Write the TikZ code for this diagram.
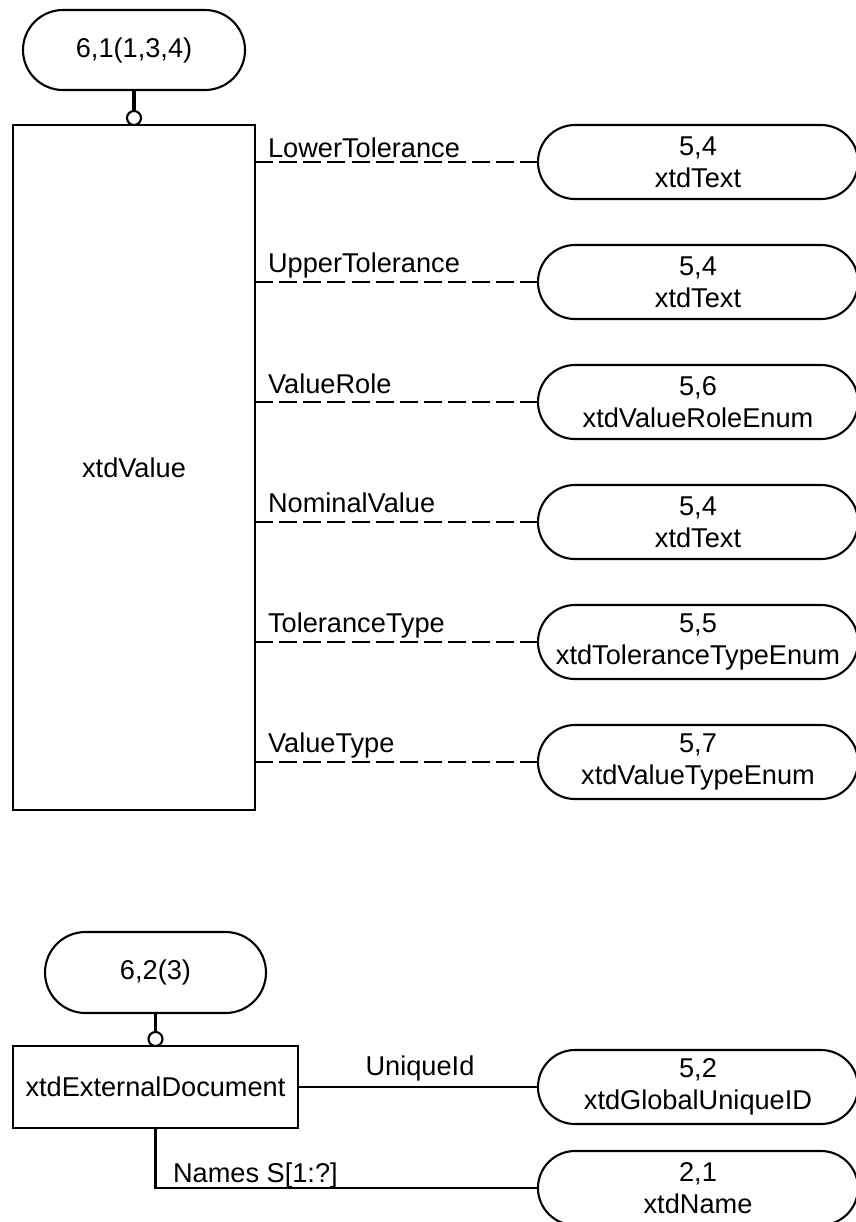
\documentclass[tikz,border=0pt]{standalone}
\usepackage{fontspec}
\setmainfont{Liberation Sans}

\begin{document}
\begin{tikzpicture}[x=0.015cm, y=-0.015cm,
		font=\fontsize{11.6}{13.66}\selectfont,
		line width=0.9pt,
		refbox/.style={draw, rounded corners=0.6cm, minimum width=3.33cm, minimum height=1.2cm},
		entbox/.style={draw},
		typebox/.style={draw, align=center, rounded corners=0.555cm, minimum width=4.8cm, minimum height=1.11cm},
		hook/.style={draw, circle, fill=white, inner sep=0pt, minimum size=0.21cm},
		stub/.style={line width=1.7pt},
		attr/.style={dash pattern=on 7.7pt off 2.6pt}]
			\useasboundingbox (0,0) rectangle (856,1222);

			% Draw the xtdValue entity
			\node[refbox] (ref1) at (134,50) {6,1(1,3,4)};
			\node[entbox, minimum width=3.63cm, minimum height=10.275cm] (val) at (134,467.5) {xtdValue};
			\node[hook] (c1) at (134,118) {};
			\draw[stub] (ref1) -- (c1);

			% Draw its attributes
			\foreach \y/\ly/\attr/\num/\typ [count=\i] in {
					162/157/LowerTolerance/{5,4}/xtdText,
					282/272/UpperTolerance/{5,4}/xtdText,
					402/393/ValueRole/{5,6}/xtdValueRoleEnum,
					522/512/NominalValue/{5,4}/xtdText,
					642/632/ToleranceType/{5,5}/xtdToleranceTypeEnum,
					762/752/ValueType/{5,7}/xtdValueTypeEnum} {
				\coordinate (a\i) at (255,\y);
				\node[typebox] (t\i) at (698,\y) {\num\\\typ};
				\draw[attr] (a\i) -- (t\i);
				\node[anchor=base west, inner sep=0pt] (l\i) at (267,\ly) {\attr};
			}

			% Draw the xtdExternalDocument entity
			\node[refbox, minimum width=3.315cm, minimum height=1.215cm, rounded corners=0.6075cm] (ref2) at (155.5,972.5) {6,2(3)};
			\node[entbox, minimum width=4.275cm, minimum height=1.23cm] (ext) at (155.5,1087) {xtdExternalDocument};
			\node[hook] (c2) at (155.5,1039) {};
			\draw[stub] (ref2) -- (c2);

			% Draw sub-boxes
			\node[typebox] (gid) at (698,1087) {5,2\\xtdGlobalUniqueID};
			\node[typebox] (nm) at (698,1188) {2,1\\xtdName};

			\draw (ext) -- (gid);
			\node[anchor=base] (luid) at (420,1075) {UniqueId};

			\draw (ext.south) |- (nm.west);
			\node[anchor=base west, inner sep=0pt] (lnm) at (172,1182) {Names S[1:?]};
		\end{tikzpicture}
\end{document}
